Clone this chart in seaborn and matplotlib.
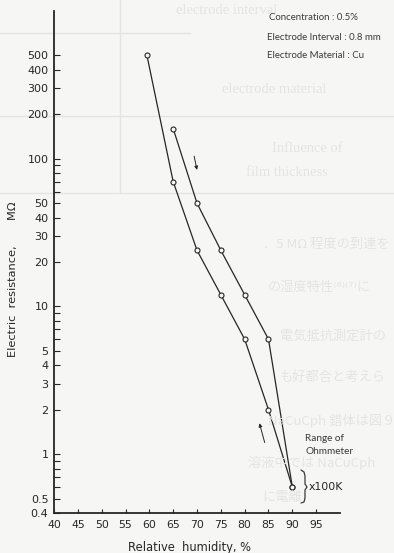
import matplotlib
matplotlib.use("Agg")
import matplotlib.pyplot as plt
import matplotlib.ticker as mticker
import pandas as pd
import seaborn as sns

# ── Data ──────────────────────────────────────────────────────────────────────
humidity_a = [59.5, 65, 70, 75, 80, 85, 90]
resistance_a = [500, 70, 24, 12, 6, 2, 0.6]
humidity_b = [65, 70, 75, 80, 85, 90]
resistance_b = [160, 50, 24, 12, 6, 0.6]

x_ticks = [40, 45, 50, 55, 60, 65, 70, 75, 80, 85, 90, 95]
y_major = [0.4, 0.5, 1, 2, 3, 4, 5, 10, 20, 30, 40, 50, 100, 200, 300, 400, 500]
y_labels = ["0.4", "0.5", "1", "2", "3", "4", "5", "10", "20", "30", "40", "50",
            "100", "200", "300", "400", "500"]
y_minor = [0.6, 0.7, 0.8, 0.9, 6, 7, 8, 9, 60, 70, 80, 90]

conditions = ["Concentration : 0.5%",
              "Electrode Interval : 0.8 mm",
              "Electrode Material : Cu"]

# faint text showing through from the other side of the scanned page
ghost_en = [("electrode interval", 176, 11), ("electrode material", 222, 90),
            ("Influence of", 272, 148), ("film thickness", 246, 172)]
ghost_jp = [("．5 MΩ 程度の到達を", 263, 244),
            ("の湿度特性⁽⁶⁾⁽⁷⁾に", 268, 287),
            ("電気抵抗測定計の", 280, 336),
            ("も好都合と考えら", 280, 377),
            ("NaCuCph 錯体は図９", 268, 421),
            ("溶液中では NaCuCph", 248, 463),
            ("に電離", 262, 498)]

INK = "#262626"
PAPER = "#f6f6f4"
GHOST = "#e4e4e2"

sns.set_theme(style="ticks")
plt.rcParams["font.family"] = ["DejaVu Sans"]

W, H = 394, 553
fig = plt.figure(figsize=(W / 100, H / 100), dpi=100, facecolor=PAPER)


def px(x, y):
    """pixel position (from top-left) -> figure fraction"""
    return x / W, 1 - y / H


# ── scan bleed-through (drawn first, behind everything) ──────────────────────
for x0, y0, x1, y1 in [(0, 33, 190, 33), (0, 116, 394, 116),
                       (0, 193, 394, 193), (120, 0, 120, 193)]:
    (fx0, fy0), (fx1, fy1) = px(x0, y0), px(x1, y1)
    fig.add_artist(plt.Line2D([fx0, fx1], [fy0, fy1], color=GHOST, lw=1.0,
                              zorder=0))
for txt, x, y in ghost_en:
    fig.text(*px(x, y), txt, color=GHOST, fontsize=10.5,
             family=["Liberation Serif", "DejaVu Serif"], va="center", zorder=0)
for txt, x, y in ghost_jp:
    fig.text(*px(x, y), txt, color=GHOST, fontsize=9.5,
             family=["Noto Sans CJK JP", "DejaVu Sans"], va="center", zorder=0)

ax = fig.add_axes([54 / W, 1 - 513 / H, (340 - 54) / W, (513 - 11) / H])
ax.set_facecolor("none")

df_a = pd.DataFrame({"humidity": humidity_a, "resistance": resistance_a})
df_b = pd.DataFrame({"humidity": humidity_b, "resistance": resistance_b})
for df in (df_a, df_b):
    sns.lineplot(data=df, x="humidity", y="resistance", ax=ax, color=INK,
                 lw=0.9, marker="o", markersize=3.6, markerfacecolor=PAPER,
                 markeredgecolor=INK, markeredgewidth=0.8, sort=False)

ax.set_yscale("log")
ax.set_xlim(40, 100)
ax.set_ylim(0.4, 1000)

ax.yaxis.set_major_locator(mticker.FixedLocator(y_major))
ax.yaxis.set_major_formatter(mticker.FixedFormatter(y_labels))
ax.yaxis.set_minor_locator(mticker.FixedLocator(y_minor))
ax.yaxis.set_minor_formatter(mticker.NullFormatter())
ax.set_xticks(x_ticks)
ax.set_xticklabels([str(v) for v in x_ticks])

ax.tick_params(axis="y", which="both", direction="in", length=4.2, width=0.8,
               color=INK, labelcolor=INK, labelsize=8, pad=4)
ax.tick_params(axis="x", direction="in", length=3.2, width=0.8,
               color=INK, labelcolor=INK, labelsize=7.8, pad=5)

sns.despine(ax=ax)
for side in ("left", "bottom"):
    ax.spines[side].set_linewidth(1.3)
    ax.spines[side].set_color(INK)
ax.set_xlabel("")
ax.set_ylabel("")

# direction arrows
ax.annotate("", xy=(70.0, 84), xytext=(69.4, 104),
            arrowprops=dict(arrowstyle="-|>", color=INK, lw=0.7,
                            mutation_scale=5, shrinkA=0, shrinkB=0))
ax.annotate("", xy=(83.1, 1.62), xytext=(84.2, 1.2),
            arrowprops=dict(arrowstyle="-|>", color=INK, lw=0.7,
                            mutation_scale=5, shrinkA=0, shrinkB=0))

# ohmmeter range note with its brace
fig.text(*px(305, 445), "Range of\nOhmmeter", fontsize=7.2, color="#3a3a3a",
         family=["Lato", "DejaVu Sans"], va="center", ha="left", linespacing=1.45)
brace = [(301, 470), (304, 472), (305, 476), (305, 484), (307, 487),
         (305, 490), (305, 498), (304, 502), (301, 503)]
fig.add_artist(plt.Line2D([px(x, y)[0] for x, y in brace],
                          [px(x, y)[1] for x, y in brace],
                          color="#3a3a3a", lw=0.9))
fig.text(*px(309, 487), "x100K", fontsize=7.8, color=INK, va="center", ha="left")

# experimental conditions
for i, line in enumerate(conditions):
    fig.text(*px(269 if i == 0 else 267, 18 + 19 * i), line,
             fontsize=6.9, color="#3a3a3a", family=["Lato", "DejaVu Sans"],
             va="center", ha="left")

# axis titles
fig.text(*px(190, 548), "Relative  humidity, %", fontsize=8.3,
         color=INK, ha="center", va="center")
fig.text(*px(13, 279), "Electric  resistance,       MΩ", fontsize=8.2,
         color=INK, ha="center", va="center", rotation=90)

fig.savefig("out.png", dpi=100, facecolor=PAPER)
plt.close(fig)
